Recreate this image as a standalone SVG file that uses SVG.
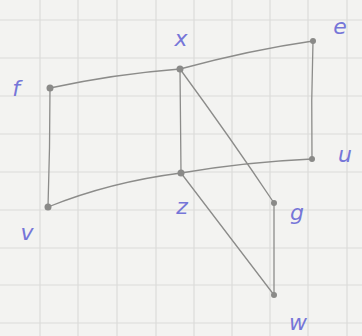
<svg xmlns="http://www.w3.org/2000/svg" width="362" height="336" viewBox="0 0 362 336">
<style>
.grid line{stroke:#dcdcda;stroke-width:1.2}
.edges path{fill:none;stroke:#8c8c8a;stroke-width:1.3;stroke-linecap:round}
.node circle{fill:#8a8a88}
.node text{font-family:"DejaVu Sans",sans-serif;font-size:22px;font-weight:300;fill:#7676d8;text-anchor:middle;font-style:italic}
</style>
<rect width="362" height="336" fill="#f3f3f1"/>
<g class="grid">
<line x1="40" y1="0" x2="40" y2="336"/><line x1="78" y1="0" x2="78" y2="336"/><line x1="117" y1="0" x2="117" y2="336"/><line x1="156" y1="0" x2="156" y2="336"/><line x1="194" y1="0" x2="194" y2="336"/><line x1="232" y1="0" x2="232" y2="336"/><line x1="270" y1="0" x2="270" y2="336"/><line x1="308" y1="0" x2="308" y2="336"/><line x1="347" y1="0" x2="347" y2="336"/>
<line x1="0" y1="20" x2="362" y2="20"/><line x1="0" y1="58" x2="362" y2="58"/><line x1="0" y1="96" x2="362" y2="96"/><line x1="0" y1="134" x2="362" y2="134"/><line x1="0" y1="172" x2="362" y2="172"/><line x1="0" y1="210" x2="362" y2="210"/><line x1="0" y1="248" x2="362" y2="248"/><line x1="0" y1="285" x2="362" y2="285"/><line x1="0" y1="323" x2="362" y2="323"/>
</g>
<g class="edges">
<path d="M50 88 Q115 74 180 69"/>
<path d="M180 69 Q250 50 313 41"/>
<path d="M313 41 Q311 100 312 159"/>
<path d="M312 159 Q245 162 181 173"/>
<path d="M181 173 Q110 182 48 207"/>
<path d="M48 207 Q50 148 50 88"/>
<path d="M180 69 L181 173"/>
<path d="M180 69 Q232 140 274 203"/>
<path d="M181 173 L274 295"/>
<path d="M274 203 L274 295"/>
</g>
<g id="node-x" class="node"><circle cx="180" cy="69" r="3.5"/><text x="181" y="46">x</text></g>
<g id="node-e" class="node"><circle cx="313" cy="41" r="3"/><text x="340" y="34">e</text></g>
<g id="node-f" class="node"><circle cx="50" cy="88" r="3.5"/><text x="16" y="96">f</text></g>
<g id="node-u" class="node"><circle cx="312" cy="159" r="3"/><text x="345" y="162">u</text></g>
<g id="node-z" class="node"><circle cx="181" cy="173" r="3.5"/><text x="182" y="214">z</text></g>
<g id="node-v" class="node"><circle cx="48" cy="207" r="3.5"/><text x="27" y="240">v</text></g>
<g id="node-g" class="node"><circle cx="274" cy="203" r="3"/><text x="297" y="220">g</text></g>
<g id="node-w" class="node"><circle cx="274" cy="295" r="3"/><text x="298" y="330">w</text></g>
</svg>
